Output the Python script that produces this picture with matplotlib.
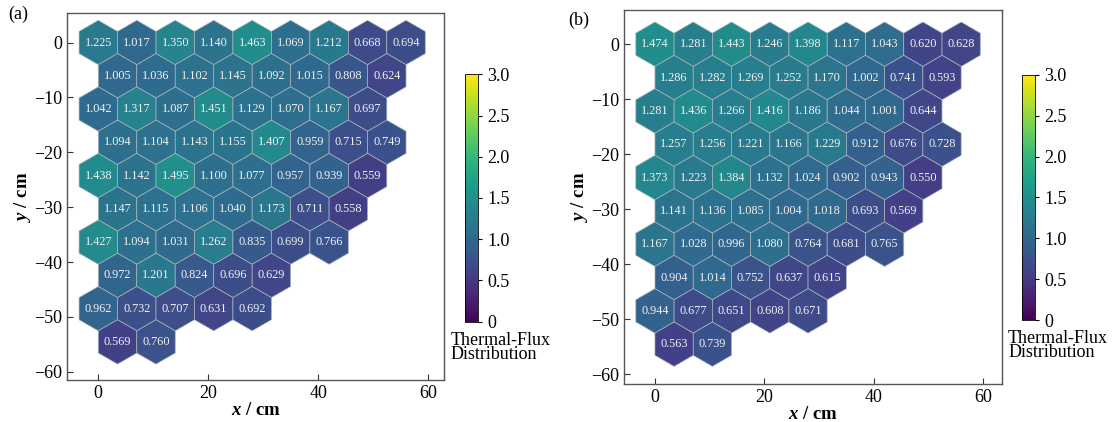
import numpy as np
import matplotlib
matplotlib.use('Agg')
import matplotlib.pyplot as plt
from matplotlib.patches import RegularPolygon
from matplotlib.collections import PatchCollection

plt.rcParams['font.family'] = 'Liberation Serif'
plt.rcParams['mathtext.fontset'] = 'custom'
plt.rcParams['mathtext.it'] = 'Liberation Serif:italic:bold'
plt.rcParams['mathtext.rm'] = 'Liberation Serif:bold'

# valores de flujo (filas de arriba a abajo)
flux_a = [
    [1.225, 1.017, 1.350, 1.140, 1.463, 1.069, 1.212, 0.668, 0.694],
    [1.005, 1.036, 1.102, 1.145, 1.092, 1.015, 0.808, 0.624],
    [1.042, 1.317, 1.087, 1.451, 1.129, 1.070, 1.167, 0.697],
    [1.094, 1.104, 1.143, 1.155, 1.407, 0.959, 0.715, 0.749],
    [1.438, 1.142, 1.495, 1.100, 1.077, 0.957, 0.939, 0.559],
    [1.147, 1.115, 1.106, 1.040, 1.173, 0.711, 0.558],
    [1.427, 1.094, 1.031, 1.262, 0.835, 0.699, 0.766],
    [0.972, 1.201, 0.824, 0.696, 0.629],
    [0.962, 0.732, 0.707, 0.631, 0.692],
    [0.569, 0.760],
]
flux_b = [
    [1.474, 1.281, 1.443, 1.246, 1.398, 1.117, 1.043, 0.620, 0.628],
    [1.286, 1.282, 1.269, 1.252, 1.170, 1.002, 0.741, 0.593],
    [1.281, 1.436, 1.266, 1.416, 1.186, 1.044, 1.001, 0.644],
    [1.257, 1.256, 1.221, 1.166, 1.229, 0.912, 0.676, 0.728],
    [1.373, 1.223, 1.384, 1.132, 1.024, 0.902, 0.943, 0.550],
    [1.141, 1.136, 1.085, 1.004, 1.018, 0.693, 0.569],
    [1.167, 1.028, 0.996, 1.080, 0.764, 0.681, 0.765],
    [0.904, 1.014, 0.752, 0.637, 0.615],
    [0.944, 0.677, 0.651, 0.608, 0.671],
    [0.563, 0.739],
]
panel_labels = ['(a)', '(b)']
cbar_ticks = [0, 0.5, 1.0, 1.5, 2.0, 2.5, 3.0]
cbar_ticklabels = ['0', '0.5', '1.0', '1.5', '2.0', '2.5', '3.0']

pitch = 7.0
radius = pitch / np.sqrt(3)
row_step = pitch * np.sqrt(3) / 2

fig = plt.figure(figsize=(11.18, 4.22), dpi=100)

axes_pos = [[0.0599, 0.0995, 0.3372, 0.870], [0.5581, 0.090, 0.3378, 0.886]]
cbar_pos = [[0.4159, 0.2377, 0.0119, 0.5863], [0.9142, 0.2417, 0.0119, 0.5806]]
ylims = [(-61.5, 5.4), (-61.8, 6.2)]
xlims = [(-5.7, 62.9), (-5.67, 63.4)]
label_pos = [(0.007, 0.965), (0.508, 0.952)]

for k, flux in enumerate([flux_a, flux_b]):
    ax = fig.add_axes(axes_pos[k])
    patches = []
    vals = []
    for r, fila in enumerate(flux):
        for c, v in enumerate(fila):
            x = c * pitch + (pitch / 2 if r % 2 else 0)
            y = -r * row_step
            patches.append(RegularPolygon((x, y), 6, radius=radius, orientation=0))
            vals.append(v)
            ax.text(x, y, f'{v:.3f}', ha='center', va='center', fontsize=8.8,
                    color='#f2f2f2')
    pc = PatchCollection(patches, cmap='viridis', edgecolor='#a9b4bb', linewidth=0.5)
    pc.set_array(np.array(vals))
    pc.set_clim(0, 3)
    ax.add_collection(pc)
    ax.set_xlim(*xlims[k])
    ax.set_ylim(*ylims[k])
    ax.set_xticks([0, 20, 40, 60])
    ax.set_yticks([0, -10, -20, -30, -40, -50, -60])
    ax.tick_params(direction='in', length=4, labelsize=13, color='#333333')
    for s in ax.spines.values():
        s.set_color('#555555')
        s.set_linewidth(1.0)
    ax.set_xlabel('$x$ / cm', fontsize=13.5, fontweight='bold', labelpad=0)
    ax.set_ylabel('$y$ / cm', fontsize=13.5, fontweight='bold', labelpad=1)

    cax = fig.add_axes(cbar_pos[k])
    cb = fig.colorbar(pc, cax=cax)
    cb.set_ticks(cbar_ticks)
    cb.set_ticklabels(cbar_ticklabels)
    cb.outline.set_linewidth(0.6)
    cax.tick_params(labelsize=13, length=3, width=0.8)
    cax.text(-1.05, -0.04, 'Thermal-Flux\nDistribution', transform=cax.transAxes,
             ha='left', va='top', fontsize=13, linespacing=0.8)

    fig.text(label_pos[k][0], label_pos[k][1], panel_labels[k], fontsize=13,
             ha='left', va='center')

fig.savefig('out.png', dpi=100)
